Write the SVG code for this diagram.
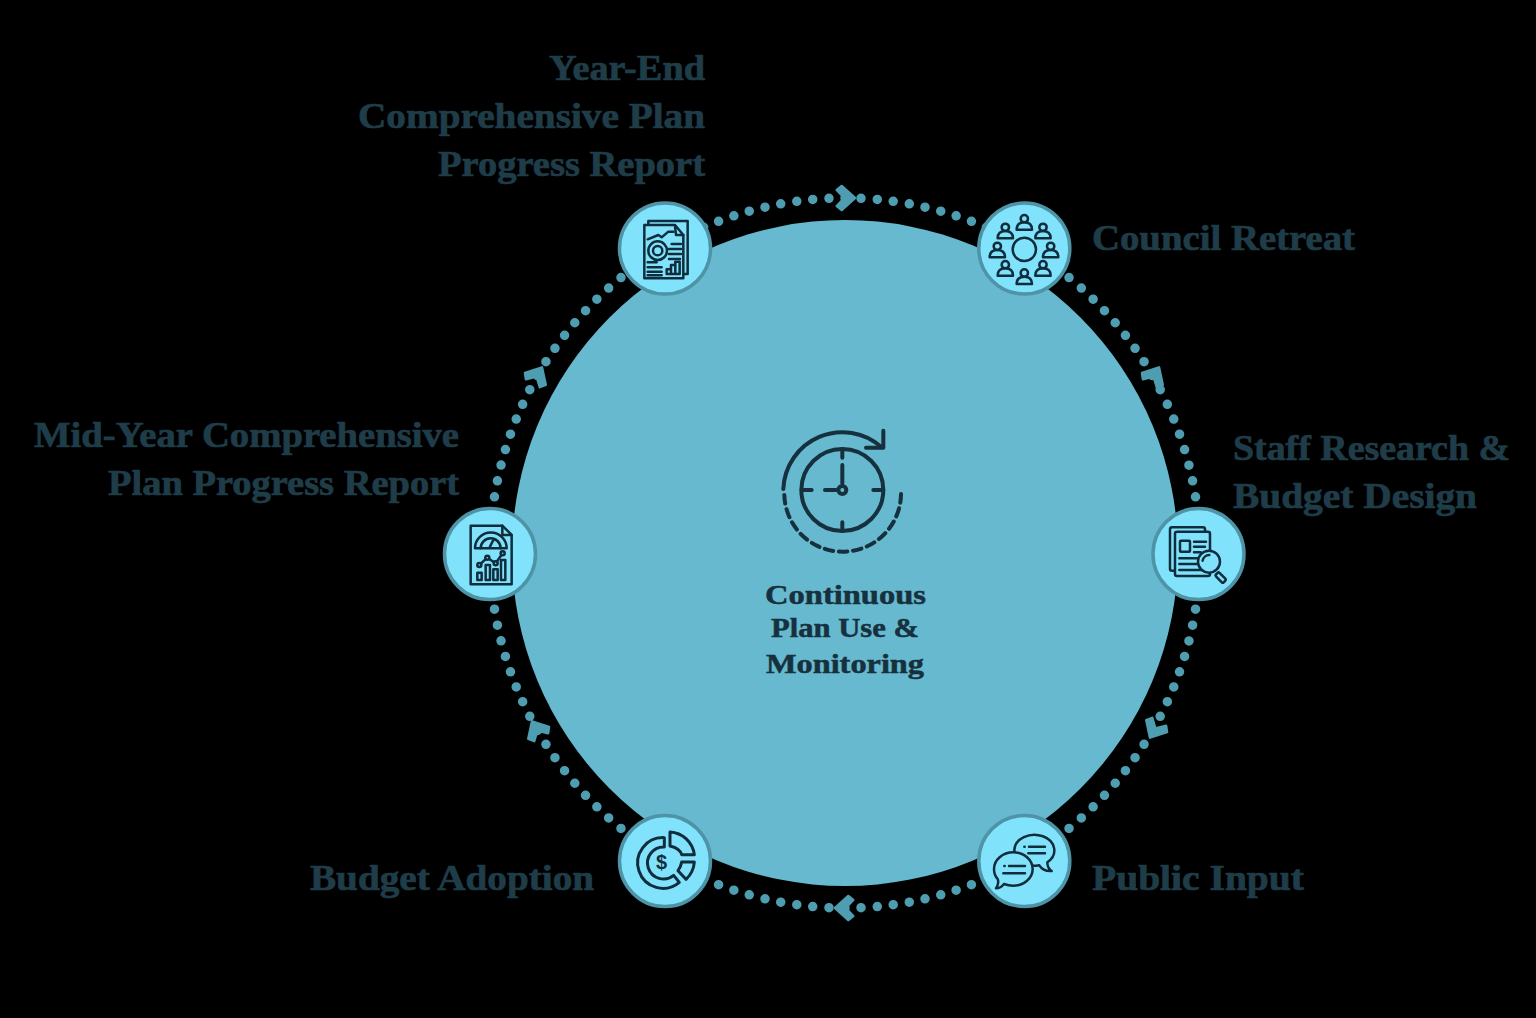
<svg xmlns="http://www.w3.org/2000/svg" width="1536" height="1018" viewBox="0 0 1536 1018">
<style>
.lbl{font-family:"Liberation Serif","DejaVu Serif",serif;font-weight:700;font-size:36px;fill:#1f3d49;stroke:#1f3d49;stroke-width:.7}
.ctr{font-family:"Liberation Serif","DejaVu Serif",serif;font-weight:700;font-size:28px;fill:#16303d;stroke:#16303d;stroke-width:.5}
.node{fill:#80e3fb;stroke:#4e93a6;stroke-width:3.5}
.ic{fill:none;stroke:#0f2d3c;stroke-width:7.5;stroke-linecap:round;stroke-linejoin:round}
.icf{fill:#80e3fb;stroke:#0f2d3c;stroke-width:7.5;stroke-linecap:round;stroke-linejoin:round}
.chev{fill:#4f9db0;stroke:#4f9db0;stroke-width:2.5;stroke-linejoin:round}
</style>
<defs>
<path id="chevron" class="chev" d="M-8.3,-8 L-3.3,-12 L10,0 L-3.3,12 L-8.3,8 L-0.7,0Z"/>
<g id="person"><circle cx="0" cy="-11" r="11" class="ic"/><path class="ic" d="M-23,22 C-23,4 -12,0 0,0 C12,0 23,4 23,22Z"/></g>
</defs>
<rect width="1536" height="1018" fill="#000"/>
<circle id="hub-disc" cx="845" cy="553" r="333" fill="#67b9cf"/>

<g id="connectors">
<circle cx="845" cy="553" r="355" fill="none" stroke="#4f9db0" stroke-width="9.5" stroke-linecap="round" pathLength="138" stroke-dasharray="0 1" transform="rotate(-90 845 553)"/>
<use href="#chevron" transform="translate(845 198)"/>
<use href="#chevron" transform="translate(1154 376) rotate(-60)"/>
<use href="#chevron" transform="translate(1155 729) rotate(120)"/>
<use href="#chevron" transform="translate(845 908) rotate(180)"/>
<use href="#chevron" transform="translate(537 730) rotate(240)"/>
<use href="#chevron" transform="translate(537 376) rotate(300)"/>
</g>

<g id="center">
<g transform="translate(750 415) scale(.3333)">
<g fill="none" stroke="#16303d" stroke-width="12" stroke-linecap="round" stroke-linejoin="round">
<circle cx="277" cy="225" r="123"/>
<path d="M100,222 A177,177 0 0 1 395,97"/>
<path d="M400,47 L400,98 L348,98"/>
<path d="M103,240 A175,175 0 0 0 453,230" stroke-dasharray="26 17"/>
<path d="M277,102V128M277,322V348M155,225H185M370,225H400M277,150V205M225,225H258"/>
<circle cx="277" cy="225" r="12"/>
</g>
</g>
<text class="ctr" x="765" y="604" textLength="161" lengthAdjust="spacingAndGlyphs">Continuous</text>
<text class="ctr" x="771" y="637" textLength="148" lengthAdjust="spacingAndGlyphs">Plan Use &amp;</text>
<text class="ctr" x="766" y="673" textLength="158" lengthAdjust="spacingAndGlyphs">Monitoring</text>
</g>

<g id="node-year-end">
<circle class="node" cx="665" cy="248.5" r="45.5"/>
<g transform="translate(600 180) scale(.3333)">
<path class="ic" d="M145,135 V123 H263 V282 H250"/>
<path class="icf" d="M133,135 H225 L250,165 V295 H133Z"/>
<path class="ic" d="M225,137 L228,165 H250"/>
<path class="ic" d="M143,178 L175,165 L185,172 L205,155 L220,155"/>
<circle class="ic" cx="173" cy="212" r="28"/><circle class="ic" cx="173" cy="212" r="14"/>
<path class="ic" d="M215,192H243M207,207H243M207,222H243M207,237H240M143,247H170M143,262H185M143,275H185M143,286H185"/>
<path class="ic" d="M200,280V268H213V280M213,280V255H226V280M226,280V245H239V282H200"/>
</g>
<text class="lbl" x="549" y="80" textLength="156" lengthAdjust="spacingAndGlyphs">Year-End</text>
<text class="lbl" x="358" y="128" textLength="347" lengthAdjust="spacingAndGlyphs">Comprehensive Plan</text>
<text class="lbl" x="438" y="176" textLength="267" lengthAdjust="spacingAndGlyphs">Progress Report</text>
</g>

<g id="node-council">
<circle class="node" cx="1024.3" cy="248.5" r="45.5"/>
<g transform="translate(960 180) scale(.3333)">
<circle class="ic" cx="193" cy="208" r="35"/>
<use href="#person" transform="translate(193 127)"/>
<use href="#person" transform="translate(136 153)"/>
<use href="#person" transform="translate(249 153)"/>
<use href="#person" transform="translate(112 210)"/>
<use href="#person" transform="translate(272 210)"/>
<use href="#person" transform="translate(136 265)"/>
<use href="#person" transform="translate(249 265)"/>
<use href="#person" transform="translate(193 290)"/>
</g>
<text class="lbl" x="1092" y="250" textLength="263" lengthAdjust="spacingAndGlyphs">Council Retreat</text>
</g>

<g id="node-staff">
<circle class="node" cx="1198.5" cy="554" r="45.5"/>
<g transform="translate(1130 490) scale(.3333)">
<rect class="ic" x="120" y="112" width="105" height="130" rx="6"/>
<rect class="icf" x="135" y="125" width="105" height="133" rx="6"/>
<rect class="ic" x="150" y="152" width="30" height="33" rx="3"/>
<path class="ic" d="M192,155H228M192,170H225M192,187H212M148,205H205M148,222H205M148,240H215"/>
<circle class="icf" cx="237" cy="215" r="33"/>
<path class="ic" d="M218,212 A20,20 0 0 1 238,195"/>
<rect class="ic" x="256" y="255" width="33" height="15" rx="4" transform="rotate(45 272 262)"/>
</g>
<text class="lbl" x="1233" y="460" textLength="277" lengthAdjust="spacingAndGlyphs">Staff Research &amp;</text>
<text class="lbl" x="1233" y="508" textLength="244" lengthAdjust="spacingAndGlyphs">Budget Design</text>
</g>

<g id="node-public">
<circle class="node" cx="1024.3" cy="861" r="45.5"/>
<g transform="translate(960 800) scale(.3333)">
<path class="ic" d="M163,150 A60,47 0 1 1 262,187 Q262,205 275,213 Q250,215 238,196 Q230,198 223,197 A60,47 0 0 1 163,150Z"/>
<path class="icf" d="M102,207 A58,50 0 1 1 160,257 Q145,257 132,252 Q122,265 108,265 Q118,250 113,237 Q102,225 102,207Z"/>
<path class="ic" d="M193,140H194M207,140H255M205,160H255M133,198H134M147,198H195M130,220H195"/>
</g>
<text class="lbl" x="1092" y="890" textLength="212" lengthAdjust="spacingAndGlyphs">Public Input</text>
</g>

<g id="node-budget">
<circle class="node" cx="665" cy="861" r="45.5"/>
<g transform="translate(600 800) scale(.3333)">
<path class="ic" style="stroke-width:9" d="M193,113 A76,76 0 1 0 238,247 L221,226 A48,48 0 1 1 193,141Z"/>
<path class="ic" style="stroke-width:9" d="M210,96 A78,78 0 0 1 283,164 H245 Q240,145 210,138Z"/>
<path class="ic" style="stroke-width:9" d="M245,186 H283 A78,78 0 0 1 258,238 L234,212 Q243,200 245,186Z"/>
<text x="185" y="208" font-family="'Liberation Sans',sans-serif" font-weight="700" font-size="60" text-anchor="middle" fill="#0f2d3c">$</text>
</g>
<text class="lbl" x="310" y="890" textLength="284" lengthAdjust="spacingAndGlyphs">Budget Adoption</text>
</g>

<g id="node-midyear">
<circle class="node" cx="490" cy="554" r="45.5"/>
<g transform="translate(425 490) scale(.3333)">
<path class="ic" d="M137,107 H232 L260,135 V283 H137Z"/>
<path class="ic" d="M232,107 V135 H260"/>
<path class="ic" d="M150,175 A47,47 0 0 1 245,175Z"/>
<path class="ic" d="M167,175 A30,30 0 0 1 227,175M195,170 L205,150"/>
<path class="ic" d="M163,225 L187,203 L212,220 L233,190"/>
<circle class="icf" cx="163" cy="225" r="6"/><circle class="icf" cx="187" cy="203" r="6"/><circle class="icf" cx="212" cy="220" r="6"/><circle class="icf" cx="233" cy="190" r="6"/>
<rect class="ic" x="157" y="248" width="13" height="22"/>
<rect class="ic" x="182" y="225" width="13" height="45"/>
<rect class="ic" x="205" y="238" width="13" height="32"/>
<rect class="ic" x="228" y="210" width="13" height="60"/>
</g>
<text class="lbl" x="34" y="447" textLength="425" lengthAdjust="spacingAndGlyphs">Mid-Year Comprehensive</text>
<text class="lbl" x="108" y="495" textLength="351" lengthAdjust="spacingAndGlyphs">Plan Progress Report</text>
</g>
</svg>
